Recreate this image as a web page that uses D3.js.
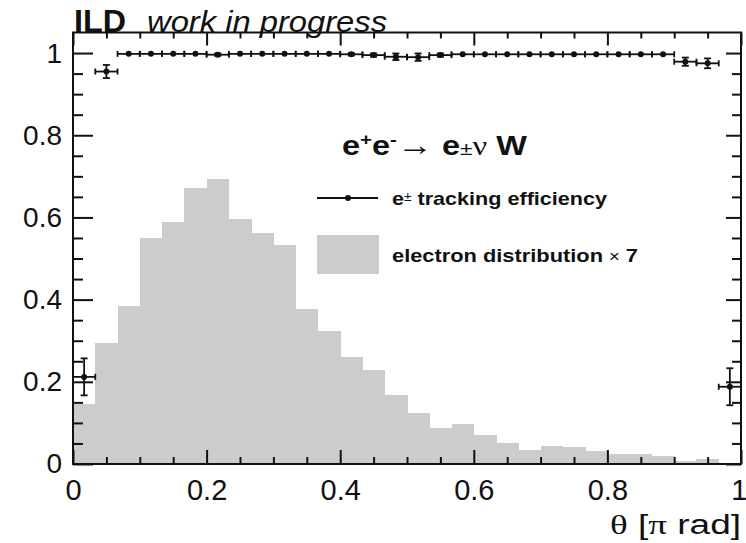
<!DOCTYPE html>
<html>
<head>
<meta charset="utf-8">
<script src="https://cdn.jsdelivr.net/npm/d3@7"></script>
<style>
  body { margin: 0; background: #fff; }
  svg { display: block; }
  text { font-family: "Liberation Sans", Arial, Helvetica, sans-serif; fill: #111; }
</style>
</head>
<body>
<svg id="chart" width="746" height="543"></svg>
<script>
// theta binning: 30 equal bins over [0, 1] (units of pi rad)
const N_BINS = 30;

// electron distribution x 7 (grey histogram), one value per bin
const HIST = [0.146, 0.294, 0.385, 0.549, 0.590, 0.672, 0.693, 0.596, 0.562, 0.533,
              0.378, 0.324, 0.261, 0.229, 0.167, 0.123, 0.087, 0.097, 0.071, 0.051,
              0.033, 0.045, 0.042, 0.031, 0.024, 0.025, 0.019, 0.007, 0.012, 0.000];

// e+- tracking efficiency per bin and its error
const EFF = [0.212, 0.955, 0.998, 0.998, 0.998, 0.998, 0.996, 0.998, 0.998, 0.998,
             0.998, 0.998, 0.997, 0.995, 0.991, 0.990, 0.995, 0.997, 0.997, 0.997,
             0.997, 0.997, 0.997, 0.997, 0.997, 0.997, 0.997, 0.979, 0.975, 0.188];
const EFF_ERR = [0.045, 0.016, 0.002, 0.002, 0.002, 0.002, 0.003, 0.002, 0.002, 0.002,
                 0.002, 0.002, 0.003, 0.004, 0.008, 0.009, 0.004, 0.002, 0.002, 0.002,
                 0.002, 0.002, 0.002, 0.002, 0.002, 0.002, 0.002, 0.010, 0.012, 0.045];

const X_TICKS = [0, 0.2, 0.4, 0.6, 0.8, 1];
const X_LABELS = ["0", "0.2", "0.4", "0.6", "0.8", "1"];
const Y_TICKS = [0, 0.2, 0.4, 0.6, 0.8, 1];
const Y_LABELS = ["0", "0.2", "0.4", "0.6", "0.8", "1"];

const GREY = "#cccccc";
const SERIF = "Liberation Serif, Times New Roman, serif";

const svg = d3.select("#chart");
svg.append("rect").attr("width", 746).attr("height", 543).attr("fill", "#fff");

const margin = { left: 73, right: 5, top: 32.5, bottom: 79 };
const W = 746 - margin.left - margin.right;
const H = 543 - margin.top - margin.bottom;

const x = d3.scaleLinear().domain([0, 1]).range([0, W]);
const y = d3.scaleLinear().domain([0, 1.05]).range([H, 0]);

const g = svg.append("g").attr("transform", `translate(${margin.left},${margin.top})`);

const binW = 1 / N_BINS;
const bins = HIST.map((v, i) => ({ lo: i * binW, hi: (i + 1) * binW, h: v, e: EFF[i], err: EFF_ERR[i] }));

// histogram
g.append("g").selectAll("rect")
  .data(bins)
  .join("rect")
  .attr("x", d => x(d.lo))
  .attr("width", d => x(d.hi) - x(d.lo) + 0.5)
  .attr("y", d => y(d.h))
  .attr("height", d => y(0) - y(d.h))
  .attr("fill", GREY)
  .attr("shape-rendering", "crispEdges");

// axes (ROOT style: ticks pointing inwards, on all four sides)
const minorX = d3.range(0, 21).map(i => i * 0.05).filter(v => !X_TICKS.includes(+v.toFixed(2)));
const minorY = d3.range(0, 21).map(i => i * 0.05).filter(v => !Y_TICKS.includes(+v.toFixed(2)));

function styleAxis(sel) {
  sel.select(".domain").remove();
  sel.selectAll(".tick line").attr("stroke", "#111").attr("stroke-width", 2);
}

g.append("g").attr("transform", `translate(0,${H})`)
  .call(d3.axisBottom(x).tickValues(X_TICKS).tickFormat((d, i) => X_LABELS[i])
    .tickSizeInner(-14).tickSizeOuter(0).tickPadding(15))
  .call(styleAxis)
  .call(s => s.selectAll("text").attr("font-size", 29).attr("font-family", "Liberation Sans, Arial, sans-serif").attr("fill", "#111"))
  .call(s => s.selectAll(".tick").filter(d => d === 1).select("text").attr("text-anchor", "end").attr("x", 6));
g.append("g").attr("transform", `translate(0,${H})`)
  .call(d3.axisBottom(x).tickValues(minorX).tickFormat("").tickSizeInner(-7).tickSizeOuter(0))
  .call(styleAxis);

g.append("g")
  .call(d3.axisTop(x).tickValues(X_TICKS).tickFormat("").tickSizeInner(-13).tickSizeOuter(0))
  .call(styleAxis);
g.append("g")
  .call(d3.axisTop(x).tickValues(minorX).tickFormat("").tickSizeInner(-6).tickSizeOuter(0))
  .call(styleAxis);

g.append("g")
  .call(d3.axisLeft(y).tickValues(Y_TICKS).tickFormat((d, i) => Y_LABELS[i])
    .tickSizeInner(-20).tickSizeOuter(0).tickPadding(11))
  .call(styleAxis)
  .call(s => s.selectAll("text").attr("font-size", 28).attr("font-family", "Liberation Sans, Arial, sans-serif").attr("fill", "#111"));
g.append("g")
  .call(d3.axisLeft(y).tickValues(minorY).tickFormat("").tickSizeInner(-10).tickSizeOuter(0))
  .call(styleAxis);

g.append("g").attr("transform", `translate(${W},0)`)
  .call(d3.axisRight(y).tickValues(Y_TICKS).tickFormat("").tickSizeInner(-15).tickSizeOuter(0))
  .call(styleAxis);
g.append("g").attr("transform", `translate(${W},0)`)
  .call(d3.axisRight(y).tickValues(minorY).tickFormat("").tickSizeInner(-9).tickSizeOuter(0))
  .call(styleAxis);

// efficiency points with error bars
const pts = g.append("g").attr("stroke", "#111").attr("stroke-width", 1.8);
bins.forEach(d => {
  const cx = x((d.lo + d.hi) / 2);
  const cy = y(d.e);
  pts.append("line").attr("x1", x(d.lo)).attr("x2", x(d.hi)).attr("y1", cy).attr("y2", cy);
  [d.lo, d.hi].forEach(b => pts.append("line")
    .attr("x1", x(b)).attr("x2", x(b)).attr("y1", cy - 3).attr("y2", cy + 3));
  const yTop = y(d.e + d.err), yBot = y(d.e - d.err);
  if (yBot - yTop > 2) {
    pts.append("line").attr("x1", cx).attr("x2", cx).attr("y1", yTop).attr("y2", yBot);
    [yTop, yBot].forEach(v => pts.append("line")
      .attr("x1", cx - 3.5).attr("x2", cx + 3.5).attr("y1", v).attr("y2", v));
  }
  pts.append("circle").attr("cx", cx).attr("cy", cy).attr("r", 3).attr("fill", "#111").attr("stroke", "none");
});

// frame
g.append("rect").attr("width", W).attr("height", H)
  .attr("fill", "none").attr("stroke", "#111").attr("stroke-width", 2);

// header
svg.append("text").attr("x", 74).attr("y", 32)
  .attr("font-size", 31).attr("font-weight", "bold")
  .attr("textLength", 52).attr("lengthAdjust", "spacingAndGlyphs").text("ILD");
svg.append("text").attr("x", 147).attr("y", 32)
  .attr("font-size", 30).attr("font-style", "italic")
  .attr("textLength", 240).attr("lengthAdjust", "spacingAndGlyphs").text("work in progress");

// process label
const proc = svg.append("text").attr("x", 342).attr("y", 155)
  .attr("font-size", 27).attr("font-weight", "bold")
  .attr("textLength", 185).attr("lengthAdjust", "spacingAndGlyphs");
proc.append("tspan").text("e");
proc.append("tspan").attr("font-size", 17).attr("dy", -10).text("+");
proc.append("tspan").attr("dy", 10).text("e");
proc.append("tspan").attr("font-size", 17).attr("dy", -10).text("-");
proc.append("tspan").attr("dy", 10).attr("font-weight", "normal").attr("font-size", 30).text("\u2192");
proc.append("tspan").text(" e");
proc.append("tspan").attr("font-size", 19).attr("font-weight", "normal").text("\u00b1");
proc.append("tspan").attr("font-weight", "normal").attr("font-family", SERIF).text("\u03bd");
proc.append("tspan").text(" W");

// legend
const lg = svg.append("g");
lg.append("line").attr("x1", 317).attr("x2", 378).attr("y1", 198).attr("y2", 198)
  .attr("stroke", "#111").attr("stroke-width", 2);
lg.append("circle").attr("cx", 348).attr("cy", 198).attr("r", 3).attr("fill", "#111");
const t1 = lg.append("text").attr("x", 392).attr("y", 205).attr("font-size", 19).attr("font-weight", "bold")
  .attr("textLength", 215).attr("lengthAdjust", "spacingAndGlyphs");
t1.append("tspan").text("e");
t1.append("tspan").attr("font-size", 12).attr("dy", -4).attr("font-weight", "normal").text("\u00b1");
t1.append("tspan").attr("dy", 4).text(" tracking efficiency");

lg.append("rect").attr("x", 317).attr("y", 235).attr("width", 62).attr("height", 39).attr("fill", GREY);
const t2 = lg.append("text").attr("x", 392).attr("y", 262).attr("font-size", 19).attr("font-weight", "bold")
  .attr("textLength", 246).attr("lengthAdjust", "spacingAndGlyphs");
t2.append("tspan").text("electron distribution ");
t2.append("tspan").attr("font-weight", "normal").attr("font-size", 16).text("\u00d7");
t2.append("tspan").text(" 7");

// x-axis title
const xt = svg.append("text").attr("x", 741).attr("y", 534).attr("text-anchor", "end").attr("font-size", 27)
  .attr("textLength", 131).attr("lengthAdjust", "spacingAndGlyphs");
xt.append("tspan").attr("font-family", SERIF).text("\u03b8");
xt.append("tspan").text(" [");
xt.append("tspan").attr("font-family", SERIF).text("\u03c0");
xt.append("tspan").text(" rad]");
</script>
</body>
</html>
